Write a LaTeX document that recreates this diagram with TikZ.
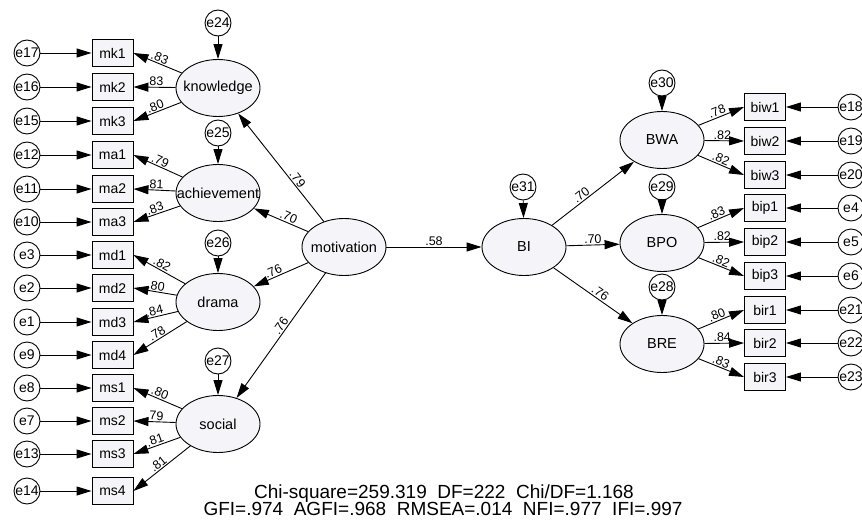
\documentclass[tikz,border=0pt]{standalone}
\usepackage{fontspec}
\setmainfont{Liberation Sans}
\usetikzlibrary{shapes.geometric,arrows.meta}
\newcommand\zw[1]{\makebox[0pt]{#1}}
\definecolor{latfill}{RGB}{245,245,249}
\definecolor{obsfill}{RGB}{245,245,249}
\begin{document}
\begin{tikzpicture}[x=1pt,y=-1pt,
  lat/.style={ellipse,draw,line width=0.9pt,fill=latfill,minimum width=84pt,minimum height=57pt,inner sep=0pt,font=\fontsize{14.5}{16}\selectfont},
  obs/.style={rectangle,draw,line width=0.9pt,fill=obsfill,minimum width=41pt,minimum height=27pt,inner sep=0pt,font=\fontsize{14}{16}\selectfont},
  err/.style={circle,draw,line width=0.9pt,fill=white,minimum size=26pt,inner sep=0pt,font=\fontsize{14}{16}\selectfont},
  arr/.style={line width=0.9pt,-{Triangle[length=15pt,width=9pt]}},
  coef/.style={sloped,above,inner sep=1pt,font=\fontsize{12.5}{14}\selectfont},
  fitline/.style={anchor=base,inner sep=0pt,font=\fontsize{19}{21}\selectfont}
]
\useasboundingbox (0,0) rectangle (862,527);

% latent variables
\node[lat] (knowledge)   at (218,88)  {\zw{knowledge}};
\node[lat] (achievement) at (218,193) {\zw{achievement}};
\node[lat] (drama)       at (218,302) {\zw{drama}};
\node[lat] (social)      at (218,424) {\zw{social}};
\node[lat] (motivation)  at (344,247) {\zw{motivation}};
\node[lat] (BI)          at (524,247) {\zw{BI}};
\node[lat] (BWA)         at (662,140) {\zw{BWA}};
\node[lat] (BPO)         at (662,243) {\zw{BPO}};
\node[lat] (BRE)         at (662,344) {\zw{BRE}};

% disturbances
\foreach \e/\l/\x/\y in {e24/knowledge/218/23, e25/achievement/218/133, e26/drama/218/243, e27/social/218/361, e31/BI/523/187, e30/BWA/662/83, e29/BPO/662/187, e28/BRE/662/287} {
  \node[err] (\e) at (\x,\y) {\zw{\e}};
  \draw[arr] (\e) -- (\l);
}

% left indicators
\foreach \b/\e/\y in {mk1/e17/53, mk2/e16/87, mk3/e15/121, ma1/e12/155, ma2/e11/189, ma3/e10/222, md1/e3/255, md2/e2/288, md3/e1/322, md4/e9/355, ms1/e8/388, ms2/e7/421, ms3/e13/454, ms4/e14/491} {
  \node[err] (\e) at (27,\y) {\zw{\e}};
  \node[obs] (\b) at (112.5,\y) {\b};
  \draw[arr] (\e) -- (\b);
}

% right indicators
\foreach \b/\e/\y in {biw1/e18/107, biw2/e19/141, biw3/e20/175, bip1/e4/208, bip2/e5/242, bip3/e6/276, bir1/e21/310, bir2/e22/343, bir3/e23/377} {
  \node[err] (\e) at (851,\y) {\zw{\e}};
  \node[obs] (\b) at (765,\y) {\b};
  \draw[arr] (\e) -- (\b);
}

% loadings
\foreach \l/\b/\c in {knowledge/mk1/.83, knowledge/mk2/.83, knowledge/mk3/.80, achievement/ma1/.79, achievement/ma2/.81, achievement/ma3/.83, drama/md1/.82, drama/md2/.80, drama/md3/.84, drama/md4/.78, social/ms1/.80, social/ms2/.79, social/ms3/.81, social/ms4/.81} {
  \draw[arr] (\l) -- (\b.east) node[coef,pos=.5] {\c};
}
\foreach \l/\b/\c in {BWA/biw1/.78, BWA/biw2/.82, BWA/biw3/.82, BPO/bip1/.83, BPO/bip2/.82, BPO/bip3/.82, BRE/bir1/.80, BRE/bir2/.84, BRE/bir3/.83} {
  \draw[arr] (\l) -- (\b.west) node[coef,pos=.45] {\c};
}

% structural paths
\draw[arr] (motivation) -- (knowledge)   node[coef,pos=.36] {.79};
\draw[arr] (motivation) -- (achievement) node[coef,pos=.4]  {.70};
\draw[arr] (motivation) -- (drama)       node[coef,pos=.6]  {.76};
\draw[arr] (motivation) -- (social)      node[coef,pos=.45] {.76};
\draw[arr] (motivation) -- (BI)          node[coef,pos=.5]  {.58};
\draw[arr] (BI) -- (BWA) node[coef,pos=.4]  {.70};
\draw[arr] (BI) -- (BPO) node[coef,pos=.5]  {.70};
\draw[arr] (BI) -- (BRE) node[coef,pos=.55] {.76};

% fit indices
\node[fitline] (fit1) at (444,498) {Chi-square=259.319\ \ DF=222\ \ Chi/DF=1.168};
\node[fitline] (fit2) at (443,515) {GFI=.974\ \ AGFI=.968\ \ RMSEA=.014\ \ NFI=.977\ \ IFI=.997};
\end{tikzpicture}
\end{document}
